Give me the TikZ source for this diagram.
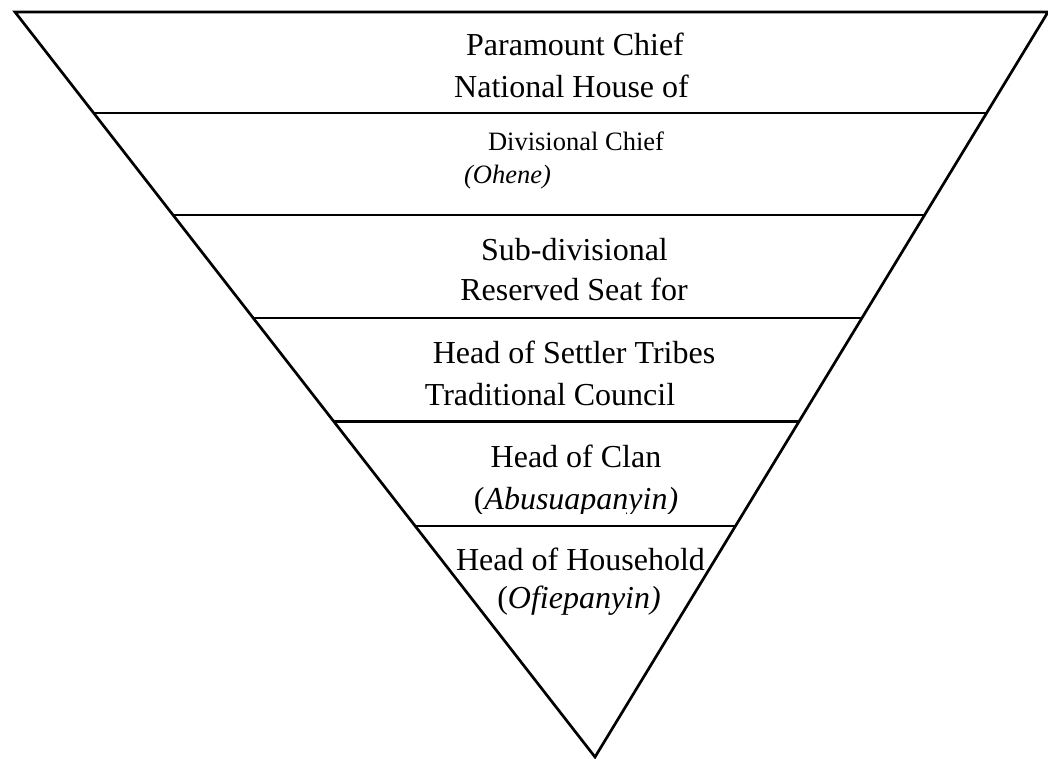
\documentclass[tikz,border=0pt]{standalone}
\usepackage{fontspec}
\setmainfont{Liberation Serif}
\usetikzlibrary{calc}
\begin{document}
\begin{tikzpicture}[x=1pt,y=-1pt,
  edge/.style={line width=2.7pt,black},
  big/.style={inner sep=0pt,anchor=base,font=\fontsize{32}{38}\selectfont},
  small/.style={inner sep=0pt,anchor=base,font=\fontsize{26.5}{32}\selectfont}]
\useasboundingbox (0,0) rectangle (1048,758);
% inverted triangle
\coordinate (A) at (15,12);
\coordinate (B) at (1048,12);
\coordinate (C) at (595,757);
\draw[edge,line join=miter] (A) -- (B) -- (C) -- cycle;
% tier dividers (fraction of the way from the top edge to the apex)
\foreach \t [count=\i] in {0.13557,0.27248,0.41074,0.54966,0.68993}{
  \coordinate (L\i) at ($(A)!\t!(C)$);
  \coordinate (R\i) at ($(B)!\t!(C)$);
  \draw[edge] (L\i) -- (R\i);
}
% tier labels
\node[big] (pc1) at (575,55) {Paramount Chief};
\node[big] (pc2) at (571.5,97) {National House of};
\node[small] (dc1) at (576,150) {Divisional Chief};
\node[small] (dc2) at (507.5,183) {\textit{(Ohene)}};
\node[big] (sd1) at (574.5,260) {Sub-divisional};
\node[big] (sd2) at (574,300) {Reserved Seat for};
\node[big] (st1) at (574,363) {Head of Settler Tribes};
\node[big] (st2) at (550,405) {Traditional Council};
\node[big] (hc1) at (576,467) {Head of Clan};
\begin{scope}
  \clip (0,0) rectangle (1048,513);
  \node[big] (hc2) at (576,509) {(\textit{Abusuapanyin)}};
\end{scope}
\node[big] (hh1) at (580.5,570) {Head of Household};
\node[big] (hh2) at (579,608) {(\textit{Ofiepanyin)}};
\end{tikzpicture}
\end{document}
